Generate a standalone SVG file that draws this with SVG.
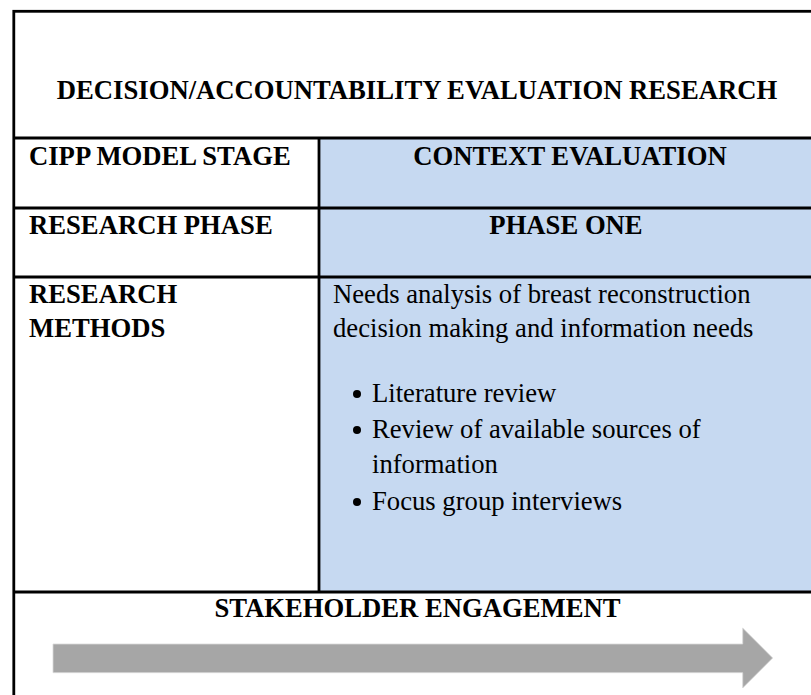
<svg xmlns="http://www.w3.org/2000/svg" width="811" height="695" viewBox="0 0 811 695">
<style>
.b{font-family:"Liberation Serif","Times New Roman",serif;font-weight:bold;font-size:26.67px;fill:#000}
.r{font-family:"Liberation Serif","Times New Roman",serif;font-size:26.67px;fill:#000}
.ln{stroke:#000;stroke-width:2.8;fill:none}
.dot{fill:#000}
</style>
<rect x="0" y="0" width="811" height="695" fill="#fff"/>
<g id="blue-cells">
<rect x="319" y="138" width="505" height="454" fill="#C6D9F1"/>
</g>
<g id="grid">
<rect class="ln" x="13.8" y="11.3" width="808" height="700"/>
<line class="ln" x1="13.8" y1="138" x2="824" y2="138"/>
<line class="ln" x1="13.8" y1="208" x2="824" y2="208"/>
<line class="ln" x1="13.8" y1="277" x2="824" y2="277"/>
<line class="ln" x1="13.8" y1="592" x2="824" y2="592"/>
<line class="ln" x1="319" y1="138" x2="319" y2="592"/>
</g>
<g id="title">
<text class="b" x="417" y="99" text-anchor="middle">DECISION/ACCOUNTABILITY EVALUATION RESEARCH</text>
</g>
<g id="cipp-label"><text class="b" x="29" y="165">CIPP MODEL STAGE</text></g>
<g id="cipp-value"><text class="b" x="570" y="165" text-anchor="middle">CONTEXT EVALUATION</text></g>
<g id="phase-label"><text class="b" x="29" y="234">RESEARCH PHASE</text></g>
<g id="phase-value"><text class="b" x="566" y="234" text-anchor="middle">PHASE ONE</text></g>
<g id="methods-label">
<text class="b" x="29" y="303">RESEARCH</text>
<text class="b" x="29" y="337">METHODS</text>
</g>
<g id="methods-value">
<text class="r" x="333" y="303">Needs analysis of breast reconstruction</text>
<text class="r" x="333" y="337">decision making and information needs</text>
<circle class="dot" cx="357" cy="394" r="4"/>
<text class="r" x="372" y="402">Literature review</text>
<circle class="dot" cx="357" cy="430" r="4"/>
<text class="r" x="372" y="438">Review of available sources of</text>
<text class="r" x="372" y="473">information</text>
<circle class="dot" cx="357" cy="502" r="4"/>
<text class="r" x="372" y="510">Focus group interviews</text>
</g>
<g id="stakeholder">
<text class="b" x="417.5" y="617" text-anchor="middle">STAKEHOLDER ENGAGEMENT</text>
</g>
<g id="connectors">
<polygon points="53,644 742.7,644 742.7,628 772.7,658 742.7,688 742.7,672.7 53,672.7" fill="#A6A6A6" stroke="#D9D9D9" stroke-width="0.8"/>
</g>
</svg>
